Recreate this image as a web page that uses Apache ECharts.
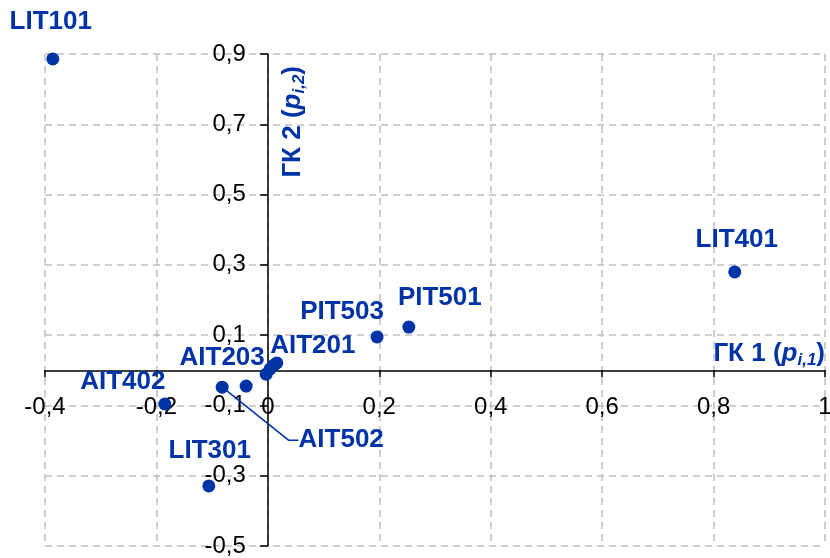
<!DOCTYPE html>
<html>
<head>
<meta charset="utf-8">
<script src="https://cdn.jsdelivr.net/npm/echarts@6/dist/echarts.min.js"></script>
<style>html,body{margin:0;padding:0;background:#fff}#c{width:830px;height:558px}</style>
</head>
<body>
<div id="c"></div>
<script>
// ---- data ----
var names = ['LIT101','LIT401','PIT501','PIT503','AIT201','','','','AIT203','AIT502','AIT402','LIT301'];
var pc1   = [-0.386, 0.838, 0.253, 0.196, 0.016, 0.011, 0.004, -0.003, -0.039, -0.082, -0.185, -0.106];
var pc2   = [ 0.886, 0.280, 0.123, 0.095, 0.021, 0.015, 0.004, -0.011, -0.045, -0.048, -0.096, -0.329];
var xTicks = { min: -0.4, max: 1, step: 0.2 };
var yTicks = { min: -0.5, max: 0.9, step: 0.2 };

// ---- layout / style (not data) ----
var W = 830, H = 558;
var GRID = { left: 45, right: 5, top: 54, bottom: 12 };
var BLUE = '#0033a6';
var FONT = 'Liberation Sans, Arial, sans-serif';
var labelOffsets = {
  'LIT101': [-2, -37], 'LIT401': [2, -32], 'PIT501': [31, -29], 'PIT503': [-35, -25],
  'AIT201': [36, -17], 'AIT203': [-24, -28], 'AIT502': [119, 53], 'AIT402': [-42, -22],
  'LIT301': [1, -35]
};

// axes cross at zero: shift each axis from its grid edge to the zero position
var gw = W - GRID.left - GRID.right, gh = H - GRID.top - GRID.bottom;
var yAxisShift = -(0 - xTicks.min) / (xTicks.max - xTicks.min) * gw;
var xAxisShift = -(0 - yTicks.min) / (yTicks.max - yTicks.min) * gh;

var seriesData = names.map(function (n, i) {
  var item = { name: n, value: [pc1[i], pc2[i]] };
  if (n && labelOffsets[n]) {
    item.label = { show: true, position: 'inside', offset: labelOffsets[n] };
  }
  if (n === 'AIT502') {
    item.labelLine = { show: true, length2: 10, lineStyle: { color: BLUE, width: 1.5 } };
  }
  return item;
});

function fmt(v) { return String(Math.round(v * 10) / 10).replace('.', ','); }

var nameRich = {
  a: { fontFamily: FONT, fontSize: 26, fontWeight: 'bold', color: BLUE, lineHeight: 30 },
  p: { fontFamily: FONT, fontSize: 26, fontWeight: 'bold', fontStyle: 'italic', color: BLUE, lineHeight: 30 },
  s: { fontFamily: FONT, fontSize: 17, fontWeight: 'bold', fontStyle: 'italic', color: BLUE, lineHeight: 17, verticalAlign: 'bottom' }
};

var gridLine = { show: true, lineStyle: { color: '#bfbfbf', width: 1.5, type: [7, 5] } };

var option = {
  animation: false,
  grid: { left: GRID.left, right: GRID.right, top: GRID.top, bottom: GRID.bottom, containLabel: false, outerBoundsMode: 'none' },
  xAxis: {
    type: 'value', min: xTicks.min, max: xTicks.max, interval: xTicks.step,
    position: 'bottom', offset: xAxisShift,
    axisLine: { onZero: false, lineStyle: { color: '#000', width: 1.5 } },
    axisTick: { show: true, length: 7, lineStyle: { color: '#000', width: 1.5 } },
    axisLabel: { formatter: fmt, fontFamily: FONT, fontSize: 24, color: '#000', margin: 25, showMinLabel: true, showMaxLabel: true, hideOverlap: false },
    splitLine: gridLine,
    name: '{a|ГК 1 (}{p|p}{s|i,1}{a|)}',
    nameLocation: 'end', nameGap: 0, nameMoveOverlap: false,
    nameTextStyle: { align: 'right', verticalAlign: 'bottom', padding: [0, 0, 1, 0], rich: nameRich }
  },
  yAxis: {
    type: 'value', min: yTicks.min, max: yTicks.max, interval: yTicks.step,
    position: 'left', offset: yAxisShift,
    axisLine: { show: true, onZero: false, lineStyle: { color: '#000', width: 1.5 } },
    axisTick: { show: true, length: 8, lineStyle: { color: '#000', width: 1.5 } },
    axisLabel: { formatter: fmt, fontFamily: FONT, fontSize: 24, color: '#000', margin: 22, showMinLabel: true, showMaxLabel: true, hideOverlap: false },
    splitLine: gridLine,
    name: '{a|ГК 2 (}{p|p}{s|i,2}{a|)}',
    nameLocation: 'end', nameGap: -12, nameRotate: 90, nameMoveOverlap: false,
    nameTextStyle: { align: 'right', verticalAlign: 'top', padding: [10, 0, 0, 0], rich: nameRich }
  },
  series: [{
    type: 'scatter',
    symbol: 'circle',
    symbolSize: 13,
    itemStyle: { color: BLUE, opacity: 1 },
    label: {
      show: false, formatter: '{b}', fontFamily: FONT, fontSize: 26, fontWeight: 'bold', color: BLUE,
      align: 'center', verticalAlign: 'middle', opacity: 1
    },
    emphasis: { disabled: true },
    data: seriesData
  }]
};

var chart = echarts.init(document.getElementById('c'), null, { renderer: 'canvas' });
chart.setOption(option);
</script>
</body>
</html>
